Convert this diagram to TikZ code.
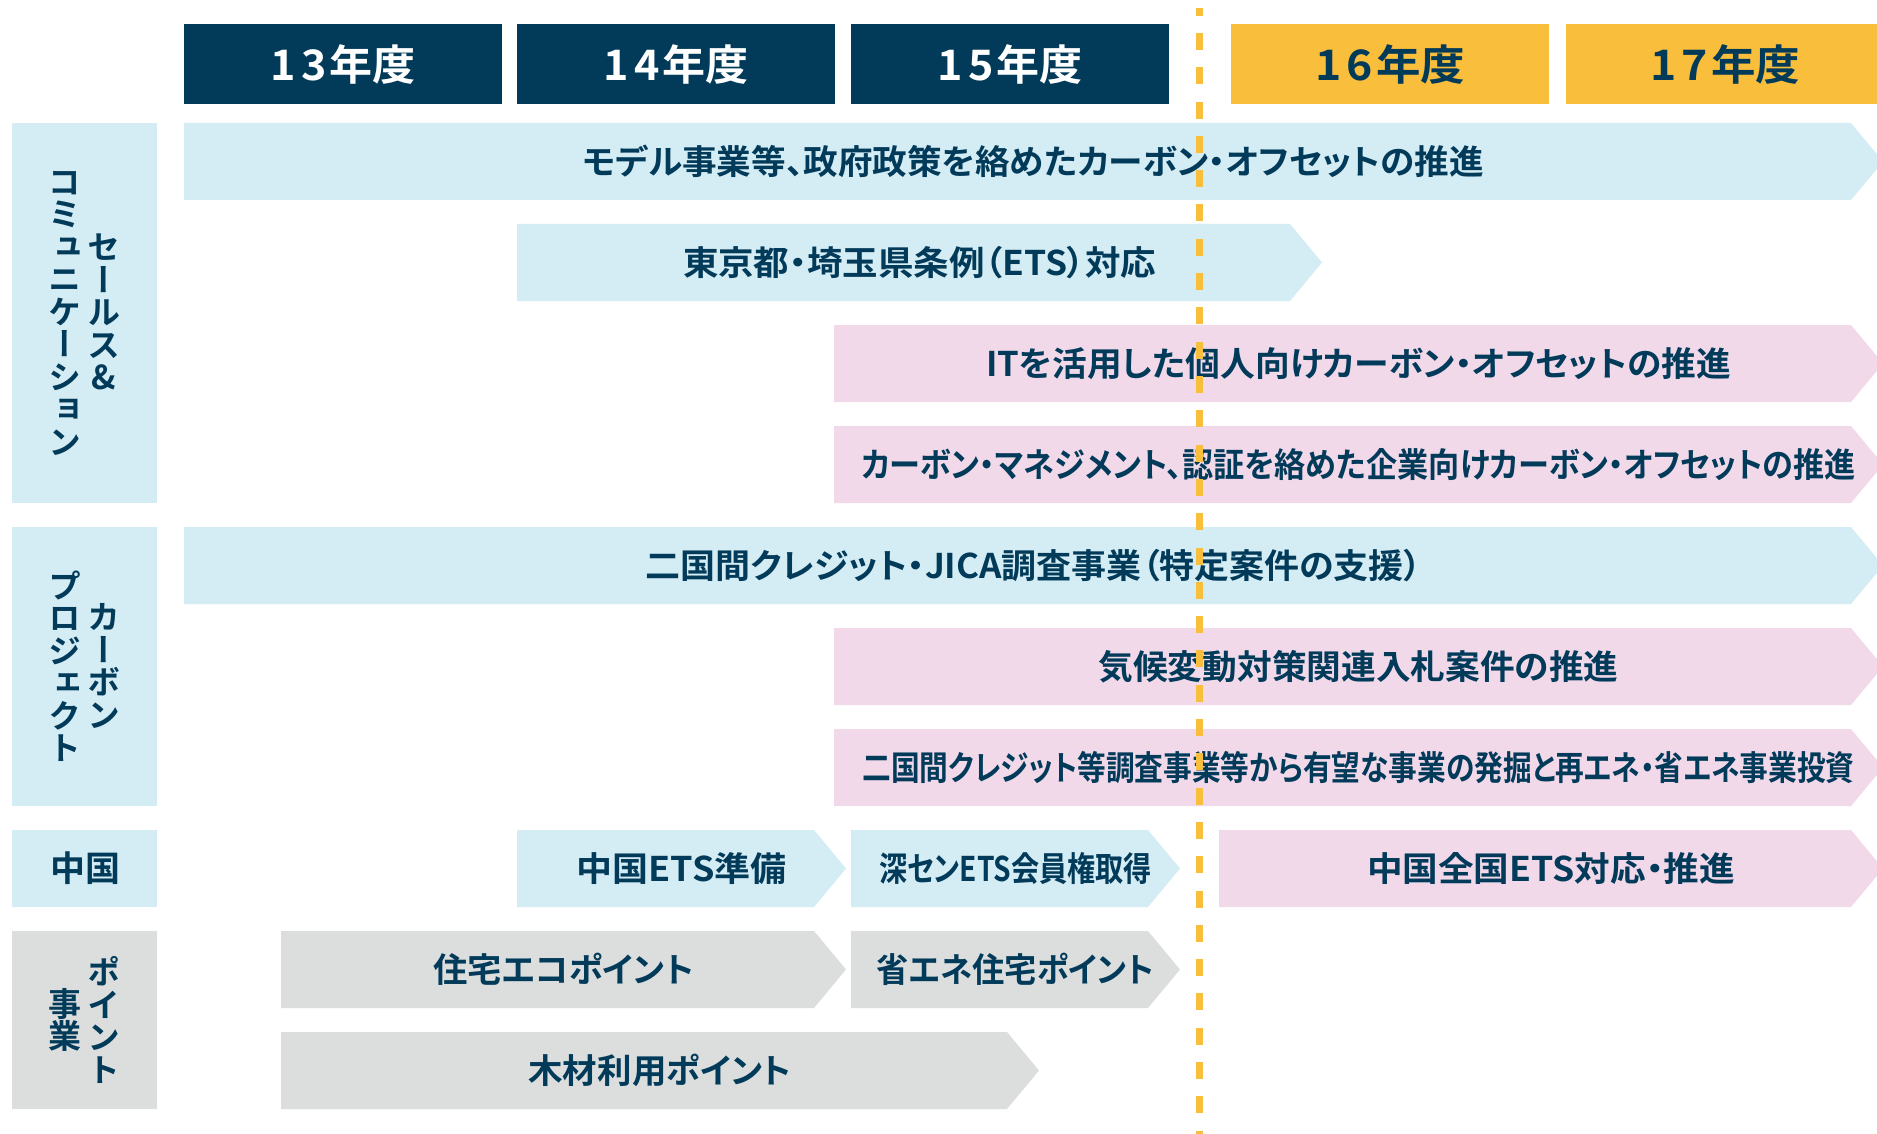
\documentclass[tikz,border=0pt]{standalone}
\usepackage{fontspec}
\usepackage{graphicx}
\newfontfamily\jpb{Noto Sans CJK JP Bold}[RawFeature=+palt]
\newfontfamily\jpv{Noto Sans CJK JP Bold}[RawFeature=+vert]
\definecolor{navy}{HTML}{023A59}
\definecolor{tnavy}{HTML}{023A59}
\definecolor{gold}{HTML}{F9BE3B}
\definecolor{lblue}{HTML}{D4ECF4}
\definecolor{lpink}{HTML}{F1D9EA}
\definecolor{lgray}{HTML}{DCDEDE}
\newcommand\fitw[2]{\resizebox{#1pt}{\height}{#2}}
\newcommand\yr[2]{#1\kern5pt#2\kern3pt年度}
\tikzset{
  bartext/.style={text=tnavy, font=\jpb\fontsize{34}{40}\selectfont, inner sep=0pt},
  hdr/.style={anchor=north west, minimum width=318pt, minimum height=80pt, inner sep=0pt, font=\jpb\fontsize{42}{48}\selectfont},
  sidebox/.style={anchor=north west, minimum width=145pt, inner sep=0pt},
  vtext/.style={text=tnavy, font=\jpv\fontsize{33}{32.5}\selectfont, align=center, inner sep=0pt},
  deadline/.style={draw=gold, line width=7pt, dash pattern=on 17pt off 17.3pt, dash phase=9.3pt}
}
\newcommand\arrbar[6]{%
  \fill[#5] (#2,#3) -- (#4,#3) -- ({#4+32},{#3+38.5}) -- (#4,{#3+77}) -- (#2,{#3+77}) -- cycle;
  \node[bartext] (#1) at ({(#2+#4+32)/2},{#3+38.5}) {#6};
}
\begin{document}
\begin{tikzpicture}[x=1pt,y=-1pt]
\useasboundingbox (0,0) rectangle (1877,1134);
\clip (0,0) rectangle (1877,1134);
\fill[white] (0,0) rectangle (1877,1134);

% headers
\node[hdr, fill=navy, text=white] (h13) at (184,24) {\fitw{145}{\yr13}};
\node[hdr, fill=navy, text=white] (h14) at (517,24) {\fitw{145}{\yr14}};
\node[hdr, fill=navy, text=white] (h15) at (851,24) {\fitw{145}{\yr15}};
\node[hdr, fill=gold, text=tnavy] (h16) at (1231,24) {\fitw{150}{\yr16}};
\node[hdr, fill=gold, text=tnavy] (h17) at (1566,24) {\fitw{150}{\yr17}};

% side labels
\node[sidebox, fill=lblue, minimum height=380pt] (s1) at (12,123) {};
\node[vtext] (s1r) at (104,312) {セ\\ー\\ル\\ス\\\&};
\node[vtext] (s1l) at (65,313) {コ\\ミ\\ュ\\ニ\\ケ\\ー\\シ\\ョ\\ン};

\node[sidebox, fill=lblue, minimum height=279pt] (s2) at (12,527) {};
\node[vtext] (s2r) at (104,666) {カ\\ー\\ボ\\ン};
\node[vtext] (s2l) at (65,666) {プ\\ロ\\ジ\\ェ\\ク\\ト};

\node[sidebox, fill=lblue, minimum height=77pt] (s3) at (12,830) {};
\node[text=tnavy, font=\jpb\fontsize{35}{40}\selectfont, inner sep=0pt] (s3t) at (85,868.5) {中国};

\node[sidebox, fill=lgray, minimum height=178pt] (s4) at (12,931) {};
\node[vtext] (s4r) at (104,1020) {ポ\\イ\\ン\\ト};
\node[vtext] (s4l) at (65,1020) {事\\業};

% bars
\arrbar{b1}{184}{123}{1851}{lblue}{\fitw{901}{モデル事業等、政府政策を絡めたカーボン・オフセットの推進}}
\arrbar{b2}{517}{224}{1290}{lblue}{\fitw{473}{東京都・埼玉県条例（ETS）対応}}
\arrbar{b3}{834}{325}{1851}{lpink}{\fitw{745}{ITを活用した個人向けカーボン・オフセットの推進}}
\arrbar{b4}{834}{426}{1851}{lpink}{\fitw{994}{カーボン・マネジメント、認証を絡めた企業向けカーボン・オフセットの推進}}
\arrbar{b5}{184}{527}{1851}{lblue}{\fitw{776}{二国間クレジット・JICA調査事業（特定案件の支援）}}
\arrbar{b6}{834}{628}{1851}{lpink}{\fitw{520}{気候変動対策関連入札案件の推進}}
\arrbar{b7}{834}{729}{1851}{lpink}{\fitw{992}{二国間クレジット等調査事業等から有望な事業の発掘と再エネ・省エネ事業投資}}
\arrbar{b8a}{517}{830}{814}{lblue}{\fitw{210}{中国ETS準備}}
\arrbar{b8b}{851}{830}{1148}{lblue}{\fitw{273}{深センETS会員権取得}}
\arrbar{b8c}{1219}{830}{1851}{lpink}{\fitw{368}{中国全国ETS対応・推進}}
\arrbar{b9a}{281}{931}{814}{lgray}{\fitw{260}{住宅エコポイント}}
\arrbar{b9b}{851}{931}{1148}{lgray}{\fitw{277}{省エネ住宅ポイント}}
\arrbar{b10}{281}{1032}{1007}{lgray}{\fitw{263}{木材利用ポイント}}

% dashed boundary
\coordinate (dtop) at (1199.5,8);
\coordinate (dbot) at (1199.5,1134);
\draw[deadline] (dtop) -- (dbot);
\end{tikzpicture}
\end{document}
